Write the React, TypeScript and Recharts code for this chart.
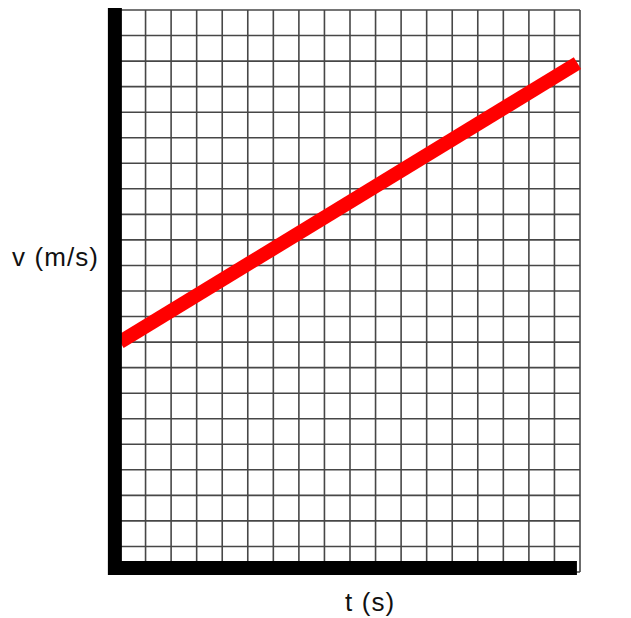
import { CartesianGrid, Line, LineChart, ReferenceLine, XAxis, YAxis } from 'recharts';

// grid units: time along x, velocity along y
const T_TICKS = [0, 1, 2, 3, 4, 5, 6, 7, 8, 9, 10, 11, 12, 13, 14, 15, 16, 17, 18];
const V_TICKS = [0, 1, 2, 3, 4, 5, 6, 7, 8, 9, 10, 11, 12, 13, 14, 15, 16, 17, 18, 19, 20, 21, 22];

const TIME = [0, 17.9];
const VELOCITY = [9, 19.92];

const data = TIME.map((t, i) => ({ t, v: VELOCITY[i] }));

const W = 631;
const H = 618;

const labelStyle: React.CSSProperties = {
  position: 'absolute',
  fontFamily: '"Liberation Sans", Arial, sans-serif',
  fontSize: 26,
  lineHeight: 1,
  letterSpacing: 1.1,
  color: '#111',
  whiteSpace: 'nowrap',
};

export default function App() {
  return (
    <div style={{ position: 'absolute', left: 0, top: 0, width: W, height: H, background: '#fff' }}>
      <LineChart width={W} height={H} data={data} margin={{ top: 10, right: 51, left: 120, bottom: 46 }}>
        <XAxis dataKey="t" type="number" domain={[0, 18]} ticks={T_TICKS} hide />
        <YAxis type="number" domain={[0, 22]} ticks={V_TICKS} hide />
        <CartesianGrid stroke="#474747" strokeWidth={1.6} />
        <Line
          type="linear"
          dataKey="v"
          stroke="#ff0000"
          strokeWidth={14}
          dot={false}
          activeDot={false}
          isAnimationActive={false}
        />
        <ReferenceLine
          segment={[{ x: -0.2, y: -0.12 }, { x: -0.2, y: 22.08 }]}
          stroke="#000"
          strokeWidth={14}
          ifOverflow="visible"
        />
        <ReferenceLine
          segment={[{ x: -0.47, y: 0.16 }, { x: 17.88, y: 0.16 }]}
          stroke="#000"
          strokeWidth={14}
          ifOverflow="visible"
        />
      </LineChart>
      <div style={{ ...labelStyle, left: 12, top: 244 }}>v (m/s)</div>
      <div style={{ ...labelStyle, left: 345, top: 589 }}>t (s)</div>
    </div>
  );
}
